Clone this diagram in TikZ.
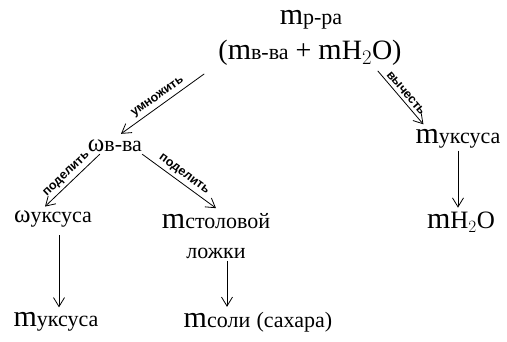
\documentclass[tikz,border=0pt]{standalone}
\usepackage{fontspec}
\setmainfont{Liberation Serif}
\newfontfamily\lblfont{Liberation Sans}
\usetikzlibrary{arrows.meta, positioning}
\newcommand{\sbs}[1]{{\fontsize{22}{24}\selectfont #1}}
\newcommand{\mbig}{{\fontsize{30}{30}\selectfont m}}
\newcommand{\msub}[1]{\mbig\sbs{#1}}
\tikzset{
  x=1pt, y=-1pt,
  qty/.style      = {font=\fontsize{25}{28}\selectfont, inner sep=2pt},   % quantities
  bigqty/.style   = {font=\fontsize{28}{30}\selectfont, inner sep=2pt},
  arrow/.style    = {->, >={Straight Barb[length=9pt,width=11pt]}, line width=0.8pt},
  oplbl/.style    = {font=\lblfont\bfseries\fontsize{12.5}{13}\selectfont,
                     sloped, above=1pt, inner sep=2pt}
}
\begin{document}
\begin{tikzpicture}
  \useasboundingbox (0,0) rectangle (507,341);
  % top
  \node[qty] (mrr) at (311,20) {\msub{р-ра}};
  \node[bigqty] (sum) at (310,53) {(\msub{в-ва} + \mbig H$_2$O)};
  % middle row
  \node[qty] (wvv) at (115,146) {ω\sbs{в-ва}};
  \node[qty] (muksR) at (458,139) {\msub{уксуса}};
  \node[qty] (wuks) at (53,219) {ω\sbs{уксуса}};
  \node[qty, align=center] (mstol) at (216,236) {\msub{столовой}\\[2pt]\sbs{ложки}};
  \node[qty] (mwater) at (461,222) {\mbig H$_2$O};
  % bottom row
  \node[qty] (muksL) at (56,322) {\msub{уксуса}};
  \node[qty] (msoli) at (258,322) {\msub{соли} \sbs{(сахара)}};
  % arrows
  \draw[arrow] ([xshift=-12pt,yshift=-6pt]sum.south west) -- node[oplbl] {умножить} ([xshift=6pt,yshift=4pt]wvv.north);
  \draw[arrow] ([xshift=-26pt,yshift=-3pt]sum.south east) -- node[oplbl] {вычесть} ([xshift=10pt,yshift=3pt]muksR.north west);
  \draw[arrow] ([xshift=14pt]wvv.south west) -- node[oplbl] {поделить} ([xshift=-8pt,yshift=2pt]wuks.north);
  \draw[arrow] ([xshift=-2pt]wvv.south east) -- node[oplbl] {поделить} ([yshift=3pt]mstol.north);
  \draw[arrow] (muksR.south) -- ([yshift=2pt]muksR.south |- mwater.north);
  \draw[arrow] ([xshift=6pt,yshift=-6pt]wuks.south) -- ([xshift=6pt,yshift=3pt]wuks.south |- muksL.north);
  \draw[arrow] ([xshift=11pt]mstol.south) -- ([xshift=11pt,yshift=3pt]mstol.south |- msoli.north);
\end{tikzpicture}
\end{document}
